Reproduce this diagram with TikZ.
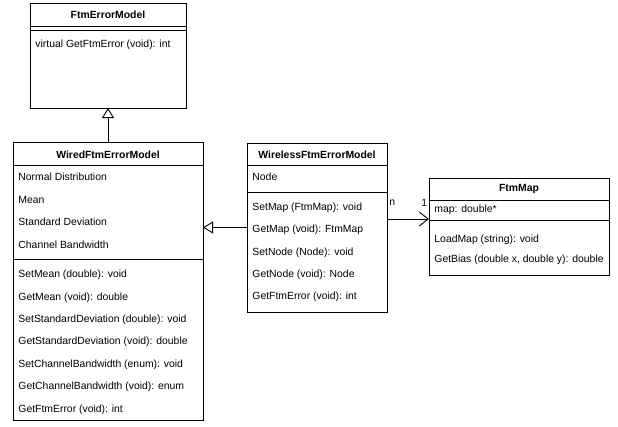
\documentclass[tikz,border=0pt]{standalone}
\usepackage{fontspec}
\setmainfont{Liberation Sans}
\usetikzlibrary{arrows.meta}
\begin{document}
\begin{tikzpicture}[x=1pt,y=-1pt, line width=0.9pt,
 classbox/.style={draw=black, fill=white, anchor=north west, inner sep=0pt, outer sep=0pt},
 titletext/.style={font=\fontsize{10.4}{12}\selectfont\bfseries, inner sep=0pt},
 member/.style={font=\fontsize{10.4}{12}\selectfont, anchor=west, inner sep=0pt},
 sepline/.style={draw=black, line width=0.9pt},
 inherit/.style={-{Triangle[open, length=10pt, width=12pt]}},
 assoc/.style={-{Straight Barb[length=9pt, width=14pt]}},
 mult/.style={font=\fontsize{10.4}{12}\selectfont, anchor=west, inner sep=0pt}]
\useasboundingbox (0,0) rectangle (618,426);

% FtmErrorModel
\node[classbox, minimum width=156pt, minimum height=105pt] (ftmerr) at (30,3) {};
\node[titletext] (ftmerrT) at (ftmerr.north |- 0,15) {FtmErrorModel};
\draw[sepline] (ftmerr.west |- 0,26) -- (ftmerr.east |- 0,26);
\draw[sepline] (ftmerr.west |- 0,30) -- (ftmerr.east |- 0,30);
\node[member] (ftmerrM1) at (35,45) {virtual GetFtmError (void): int};

% WiredFtmErrorModel
\node[classbox, minimum width=190pt, minimum height=278pt] (wired) at (13,142) {};
\node[titletext] (wiredT) at (wired.north |- 0,155) {WiredFtmErrorModel};
\draw[sepline] (wired.west |- 0,165) -- (wired.east |- 0,165);
\node[member] (wiredA1) at (18,177) {Normal Distribution};
\node[member] (wiredA2) at (18,199.6) {Mean};
\node[member] (wiredA3) at (18,222.2) {Standard Deviation};
\node[member] (wiredA4) at (18,244.8) {Channel Bandwidth};
\draw[sepline] (wired.west |- 0,259) -- (wired.east |- 0,259);
\node[member] (wiredM1) at (18,275) {SetMean (double): void};
\node[member] (wiredM2) at (18,297.4) {GetMean (void): double};
\node[member] (wiredM3) at (18,319.8) {SetStandardDeviation (double): void};
\node[member] (wiredM4) at (18,342.2) {GetStandardDeviation (void): double};
\node[member] (wiredM5) at (18,364.6) {SetChannelBandwidth (enum): void};
\node[member] (wiredM6) at (18,387) {GetChannelBandwidth (void): enum};
\node[member] (wiredM7) at (18,409.4) {GetFtmError (void): int};

% WirelessFtmErrorModel
\node[classbox, minimum width=140pt, minimum height=169pt] (wireless) at (247,143) {};
\node[titletext] (wirelessT) at (wireless.north |- 0,155) {WirelessFtmErrorModel};
\draw[sepline] (wireless.west |- 0,165) -- (wireless.east |- 0,165);
\node[member] (wirelessA1) at (252,177) {Node};
\draw[sepline] (wireless.west |- 0,192) -- (wireless.east |- 0,192);
\node[member] (wirelessM1) at (252,208) {SetMap (FtmMap): void};
\node[member] (wirelessM2) at (252,230.3) {GetMap (void): FtmMap};
\node[member] (wirelessM3) at (252,252.6) {SetNode (Node): void};
\node[member] (wirelessM4) at (252,274.9) {GetNode (void): Node};
\node[member] (wirelessM5) at (252,297.2) {GetFtmError (void): int};

% FtmMap
\node[classbox, minimum width=180pt, minimum height=97pt] (ftmmap) at (429,178) {};
\node[titletext] (ftmmapT) at (ftmmap.north |- 0,189) {FtmMap};
\draw[sepline] (ftmmap.west |- 0,200) -- (ftmmap.east |- 0,200);
\node[member] (ftmmapA1) at (434,210) {map: double*};
\draw[sepline] (ftmmap.west |- 0,220) -- (ftmmap.east |- 0,220);
\node[member] (ftmmapM1) at (434,240) {LoadMap (string): void};
\node[member] (ftmmapM2) at (434,260) {GetBias (double x, double y): double};

% connectors
\draw[inherit] (wired.north) -- (ftmerr.south);
\draw[inherit] (wireless.west) -- (wireless.west -| wired.east);
\draw[assoc] ([yshift=8.5pt]wireless.east) -- ([yshift=8.5pt]wireless.east -| ftmmap.west);
\node[mult] (multN) at (389,203) {n};
\node[mult] (mult1) at (421,203) {1};
\end{tikzpicture}
\end{document}
